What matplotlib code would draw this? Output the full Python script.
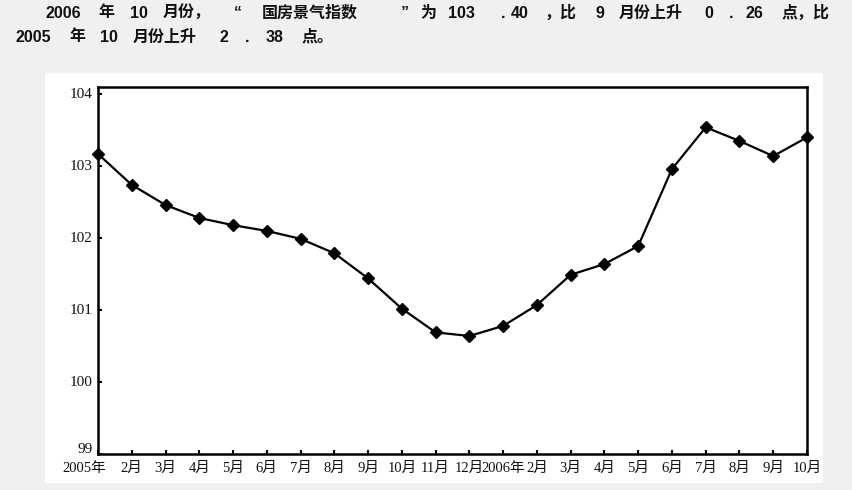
import matplotlib
matplotlib.use("Agg")
import matplotlib.pyplot as plt
from matplotlib.patches import Rectangle
from matplotlib.transforms import ScaledTranslation, blended_transform_factory

# ---- data ----
months = ["2005年", "2月", "3月", "4月", "5月", "6月", "7月", "8月", "9月", "10月", "11月", "12月",
          "2006年", "2月", "3月", "4月", "5月", "6月", "7月", "8月", "9月", "10月"]
index_values = [103.17, 102.74, 102.46, 102.28, 102.18, 102.10, 101.99, 101.79, 101.44, 101.02,
                100.69, 100.64, 100.78, 101.07, 101.49, 101.64, 101.89, 102.96, 103.54, 103.35,
                103.14, 103.40]
yticks = [99, 100, 101, 102, 103, 104]

line1 = ["2006", "年", "10", "月份，", "“", "国房景气指数", "”", "为", "103", ".", "40", "，比",
         "9", "月份上升", "0", ".", "26", "点，比"]
line1_x = [46, 98, 130, 163, 234, 262, 401, 420, 448, 501, 511, 544, 595, 619, 704, 729, 745, 782]
line2 = ["2005", "年", "10", "月份上升", "2", ".", "38", "点。"]
line2_x = [16, 69, 100, 133, 220, 245, 266, 302]

W, H = 852, 490
fig = plt.figure(figsize=(W / 100, H / 100), dpi=100, facecolor="#f0f0f3")

# white panel behind the chart
fig.patches.append(Rectangle((45 / W, 1 - 483 / H), (823 - 45) / W, (483 - 73) / H,
                             transform=fig.transFigure, facecolor="white", edgecolor="none", zorder=-5))

title_font = dict(family=["Liberation Sans", "Noto Sans CJK SC"], fontsize=11.5, fontweight="bold",
                  color="#111111", va="center", ha="left")
for t, x in zip(line1, line1_x):
    fig.text(x / W, 1 - 13 / H, t, **title_font)
for t, x in zip(line2, line2_x):
    fig.text(x / W, 1 - 37 / H, t, **title_font)

ax = fig.add_axes([98 / W, 1 - 454 / H, (807 - 98) / W, (454 - 87) / H])
ax.set_zorder(2)
ax.set_facecolor("white")
x = list(range(len(months)))
ax.plot(x, index_values, color="black", lw=1.6, marker="D", markersize=6.5,
        markerfacecolor="black", markeredgecolor="black", clip_on=False, zorder=3)

ax.set_xlim(0, len(months) - 1)
ax.set_ylim(99, 104.1)
ax.set_yticks(yticks)
ax.set_yticklabels([])
ax.set_xticks(x)
ax.set_xticklabels([])

tick_font = ["Liberation Serif", "Noto Sans CJK SC"]

# y labels (the bottom one sits a little above its tick, as in the reference)
ybase = blended_transform_factory(ax.transAxes, ax.transData)
for v in yticks:
    dy = 5 if v == yticks[0] else 0
    tr = ybase + ScaledTranslation(-5 / 100, dy / 100, fig.dpi_scale_trans)
    ax.text(0, v, str(v), transform=tr, ha="right", va="center", family=tick_font,
            fontsize=11, color="#111111", clip_on=False)

# x labels drawn as texts so the first one can sit left of the axis like the reference
base = blended_transform_factory(ax.transData, ax.transAxes)
for i, m in enumerate(months):
    dx = -14 if i == 0 else 0
    tr = base + ScaledTranslation(dx / 100, -14 / 100, fig.dpi_scale_trans)
    ax.text(i, 0, m, transform=tr, ha="center", va="center", family=tick_font,
            fontsize=10.5, color="#111111", clip_on=False)

ax.tick_params(axis="both", direction="in", length=3, width=1.5, color="black")
for s in ax.spines.values():
    s.set_linewidth(1.8)
    s.set_color("black")

fig.savefig("out.png", dpi=100, facecolor=fig.get_facecolor())
